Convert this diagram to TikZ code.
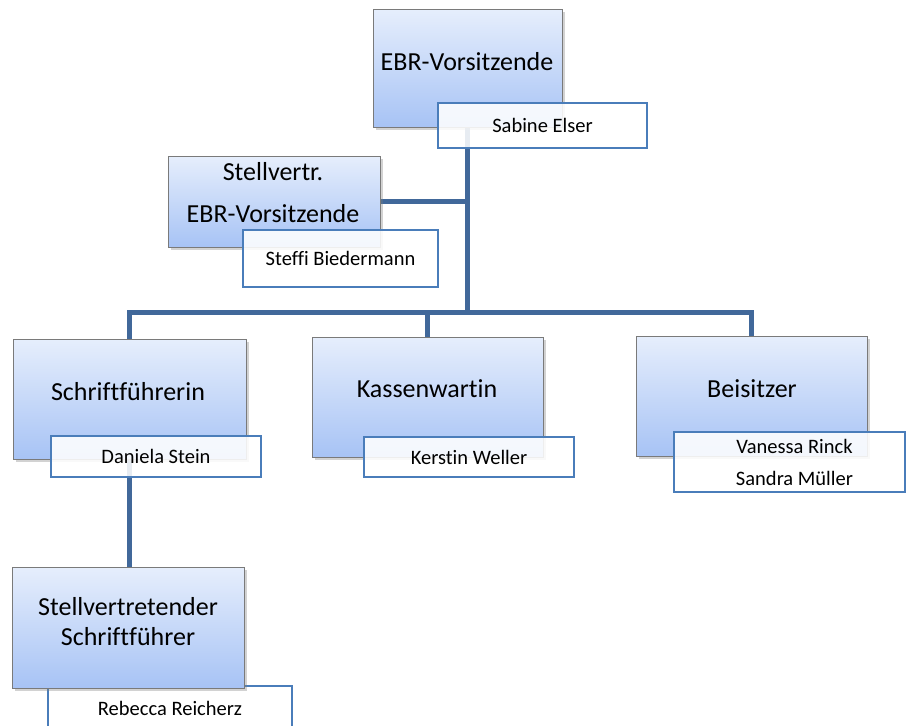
\documentclass[tikz,border=0pt]{standalone}
\usepackage{fontspec}
\setmainfont{Carlito}[Ligatures=NoCommon]
\usetikzlibrary{shadows}
\definecolor{connc}{HTML}{41689A}
\definecolor{btop}{HTML}{E6EEFC}
\definecolor{bbot}{HTML}{A7C3F5}
\definecolor{bline}{HTML}{7A7A7A}
\definecolor{nline}{HTML}{4A7DBA}
\pgfdeclarelayer{background}
\pgfdeclarelayer{canvas}
\pgfsetlayers{canvas,background,main}
\begin{document}
\begin{tikzpicture}[x=1pt,y=-1pt,
  titlebox/.style={draw=bline, line width=0.8pt, top color=btop, bottom color=bbot,
    inner sep=0pt, outer sep=0pt,
    drop shadow={shadow xshift=2.5pt, shadow yshift=-3pt, opacity=0.35}},
  namebox/.style={draw=nline, line width=1.2pt, fill=white, fill opacity=0.88,
    text opacity=1, inner sep=0pt, outer sep=0pt, align=center,
    font=\fontsize{20.5}{32}\selectfont},
  title/.style={font=\fontsize{26}{30}\selectfont, inner sep=0pt, align=center},
  conn/.style={draw=connc, line width=5pt}]
\useasboundingbox (0,0) rectangle (906,726);
\begin{pgfonlayer}{canvas}
\fill[white] (0,0) rectangle (906,726);
\end{pgfonlayer}
\clip (0,0) rectangle (906,726);

% EBR-Vorsitzende
\node[titlebox, minimum width=189pt, minimum height=118pt] (ebr) at (467.5,68) {};
\node[title] (ebrT) at (467,62) {EBR-Vorsitzende};
\node[namebox, minimum width=209pt, minimum height=45pt] (sabine) at (542.5,125.5) {Sabine Elser};

% Stellvertr.
\node[titlebox, minimum width=212pt, minimum height=91pt] (stv) at (274,201.5) {};
\node[title, font=\fontsize{26}{42}\selectfont] (stvT) at (273,193) {Stellvertr.\\EBR-Vorsitzende};
\node[namebox, minimum width=195pt, minimum height=57pt] (steffi) at (340.5,258.5) {Steffi Biedermann};

% Schriftfuehrerin
\node[titlebox, minimum width=233pt, minimum height=120pt] (sf) at (129.5,399) {};
\node[title] (sfT) at (128,392) {Schriftführerin};
\node[namebox, minimum width=210pt, minimum height=41pt] (daniela) at (156,456.5) {Daniela Stein};

% Kassenwartin
\node[titlebox, minimum width=231pt, minimum height=120pt] (ka) at (427.5,397) {};
\node[title] (kaT) at (427,389) {Kassenwartin};
\node[namebox, minimum width=210pt, minimum height=40pt] (kerstin) at (469,457) {Kerstin Weller};

% Beisitzer
\node[titlebox, minimum width=231pt, minimum height=120pt] (bei) at (751.5,396) {};
\node[title] (beiT) at (752,389) {Beisitzer};
\node[namebox, minimum width=231pt, minimum height=60pt] (beiN) at (789.5,462) {\hspace*{10pt}Vanessa Rinck\\\hspace*{10pt}Sandra Müller};

% Stellvertretender Schriftfuehrer
\node[namebox, minimum width=244pt, minimum height=44pt] (rebecca) at (170,708) {Rebecca Reicherz};
\node[titlebox, minimum width=232pt, minimum height=121pt] (ss) at (128,627.5) {};
\node[title] (ssT) at (128,622) {Stellvertretender\\Schriftführer};

\coordinate (bus) at (466,312);
\begin{pgfonlayer}{background}
\draw[conn] (ebr.south) -- (ebr.south |- bus);
\draw[conn] (stv.east) -- (stv.east -| ebr.south);
\draw[conn] (sf.north) |- (bus) -| (bei.north);
\draw[conn] (ka.north) -- (ka.north |- bus);
\draw[conn] (sf.south) -- (sf.south |- ss.north);
\end{pgfonlayer}
\end{tikzpicture}
\end{document}
